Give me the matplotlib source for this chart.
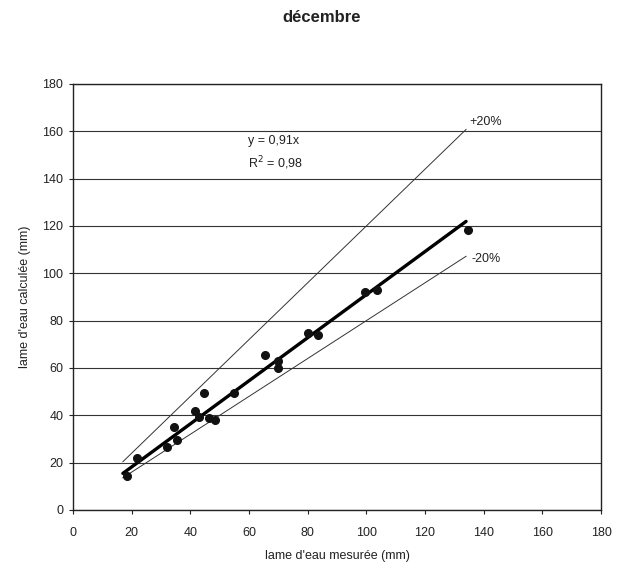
import matplotlib
matplotlib.use("Agg")
import matplotlib.pyplot as plt
import numpy as np

plt.rcParams['font.family'] = ['Liberation Sans', 'DejaVu Sans']

measured = [18.5, 21.7, 32, 35.5, 34.5, 41.5, 43, 44.5, 46.5, 48.5, 55, 65.5, 70, 70, 80, 83.5, 99.5, 103.5, 134.5]
computed = [14.5, 22, 26.5, 29.5, 35, 42, 39.5, 49.5, 39, 38, 49.5, 65.5, 63, 60, 75, 74, 92, 93, 118.5]
slope = 0.91
band = 0.20
x_range = [17, 134]
ticks = [0, 20, 40, 60, 80, 100, 120, 140, 160, 180]

fig = plt.figure(figsize=(6.33, 5.67), dpi=100)
ax = fig.add_axes([73/633, 57/567, 528/633, 426/567])

xr = np.array(x_range, dtype=float)
ax.plot(xr, xr * (1 + band), color='#333333', lw=0.7)
ax.plot(xr, xr * (1 - band), color='#333333', lw=0.7)
ax.plot(xr, xr * slope, color='black', lw=2.4, solid_capstyle='round')
ax.plot(measured, computed, 'o', color='#111111', ms=5.5, mec='#111111')

ax.text(x_range[1] + 1, x_range[1] * (1 + band) + 0.5, '+20%', fontsize=9, ha='left', va='bottom', color='#222222')
ax.text(x_range[1] + 2, x_range[1] * (1 - band) - 1, '-20%', fontsize=9, ha='left', va='center', color='#222222')
ax.text(59.5, 156, 'y = 0,91x', fontsize=9, ha='left', va='center', color='#222222')
ax.text(59.5, 146.5, 'R$^2$ = 0,98', fontsize=9, ha='left', va='center', color='#222222')

ax.set_xlim(0, 180)
ax.set_ylim(0, 180)
ax.set_xticks(ticks)
ax.set_yticks(ticks)
ax.yaxis.grid(True, color='#333333', lw=0.8)
ax.set_axisbelow(True)
for s in ax.spines.values():
    s.set_color('#222222')
    s.set_linewidth(1.0)
ax.tick_params(axis='both', direction='out', length=3, labelsize=9, colors='#222222', pad=9)
ax.tick_params(axis='y', pad=4)

ax.set_xlabel("lame d'eau mesurée (mm)", fontsize=9, color='#222222', labelpad=8)
ax.set_ylabel("lame d'eau calculée (mm)", fontsize=9, color='#222222', labelpad=8)
fig.text(322/633, 1 - 17/567, 'décembre', fontsize=12, fontweight='bold', ha='center', va='center', color='#222222')

fig.savefig('out.png', dpi=100)
